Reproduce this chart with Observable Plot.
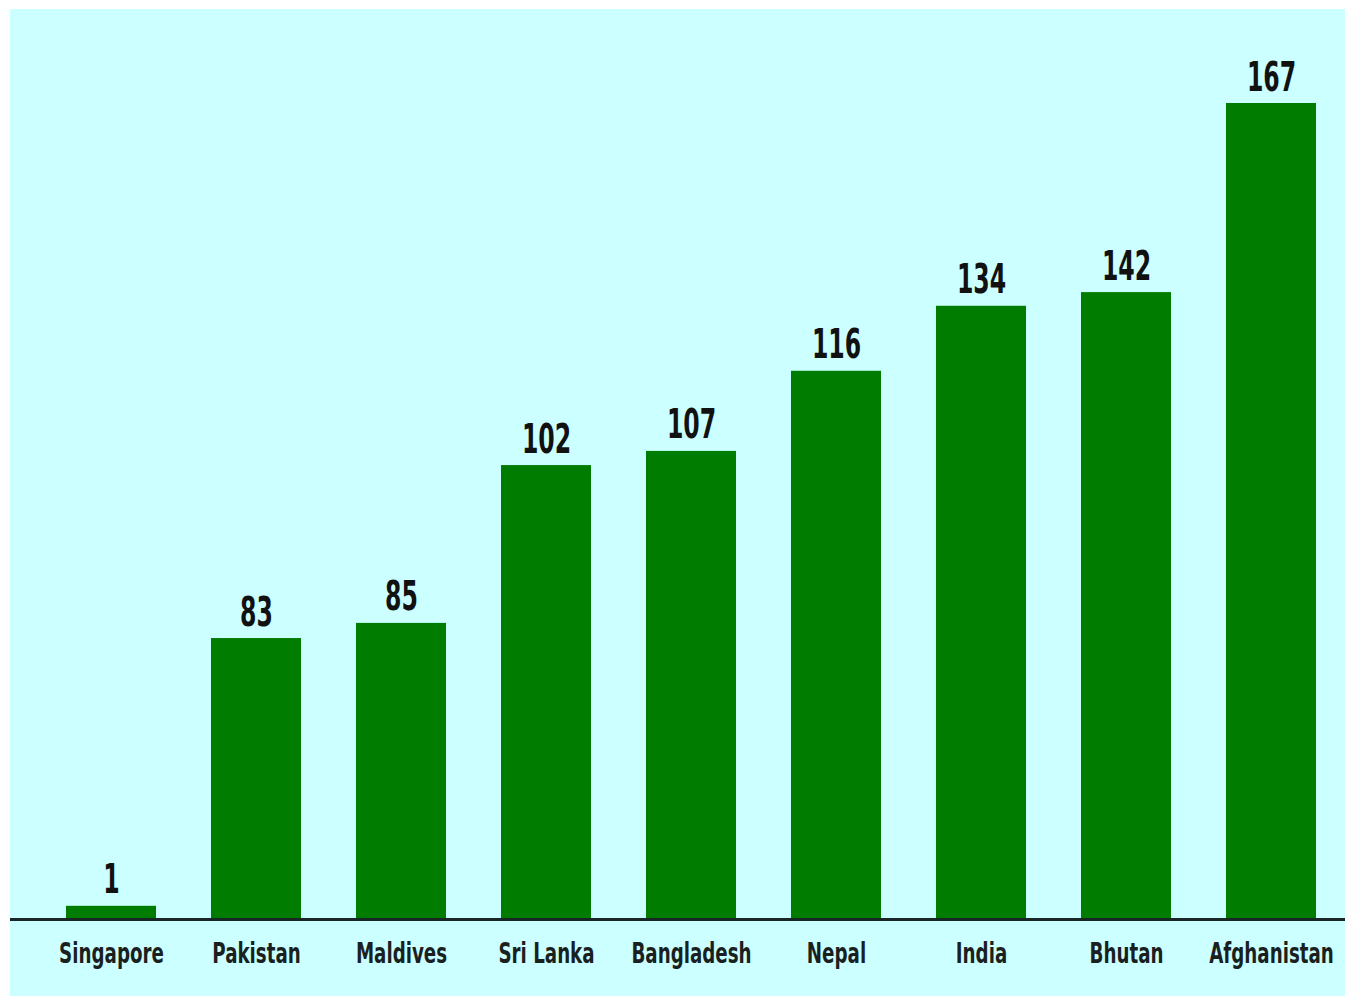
<!DOCTYPE html>
<html>
<head>
<meta charset="utf-8">
<script src="https://cdn.jsdelivr.net/npm/d3@7"></script>
<script src="https://cdn.jsdelivr.net/npm/@observablehq/plot@0.6"></script>
<style>
  html, body { margin: 0; padding: 0; background: #ffffff; }
  #chart { position: absolute; left: 10px; top: 9px; }
</style>
</head>
<body>
<div id="chart"></div>
<script>
// Countries (in drawn order)
const countries = ["Singapore", "Pakistan", "Maldives", "Sri Lanka", "Bangladesh", "Nepal", "India", "Bhutan", "Afghanistan"];
// Printed value labels
const labels = [1, 83, 85, 102, 107, 116, 134, 142, 167];
// Bar lengths as drawn in the picture (estimated, same units as the top label)
const barLengths = [2.7, 57.5, 60.6, 92.9, 95.8, 112.2, 125.5, 128.3, 167];

const data = countries.map((c, i) => ({country: c, label: labels[i], bar: barLengths[i]}));

const plot = Plot.plot({
  width: 1335,
  height: 987,
  marginTop: 94,
  marginBottom: 77,
  marginLeft: 0,
  marginRight: 0,
  style: {background: "#ccffff", fontFamily: "DejaVu Sans", color: "#111"},
  x: {domain: countries, paddingInner: 0.376, paddingOuter: 0.188, insetLeft: 27.7, insetRight: 0.7, label: null},
  y: {domain: [0, 167], axis: null},
  marks: [
    Plot.barY(data, {x: "country", y: "bar", fill: "#007d00"}),
    Plot.ruleY([0], {stroke: "#1a2626", strokeWidth: 3}),
    Plot.text(data, {x: "country", y: "bar", text: d => String(d.label), lineAnchor: "bottom", dy: -13,
      fontSize: 40, fontWeight: "bold", fill: "#111", className: "vlabel"}),
    Plot.axisX({tickSize: 0, tickPadding: 23, fontSize: 29, fontWeight: "bold", fill: "#1a1f1f", label: null, className: "xlabel"})
  ]
});
document.getElementById("chart").appendChild(plot);

// Condense glyphs horizontally about each text's anchor point
function condense(selector, k) {
  plot.querySelectorAll(selector).forEach(t => {
    const cx = parseFloat(t.getAttribute("x") || "0") || 0;
    const tr = t.getAttribute("transform") || "";
    t.setAttribute("transform", `${tr} translate(${cx},0) scale(${k},1) translate(${-cx},0)`.trim());
  });
}
condense(".vlabel text", 0.59);
condense(".xlabel text", 0.63);
</script>
</body>
</html>
